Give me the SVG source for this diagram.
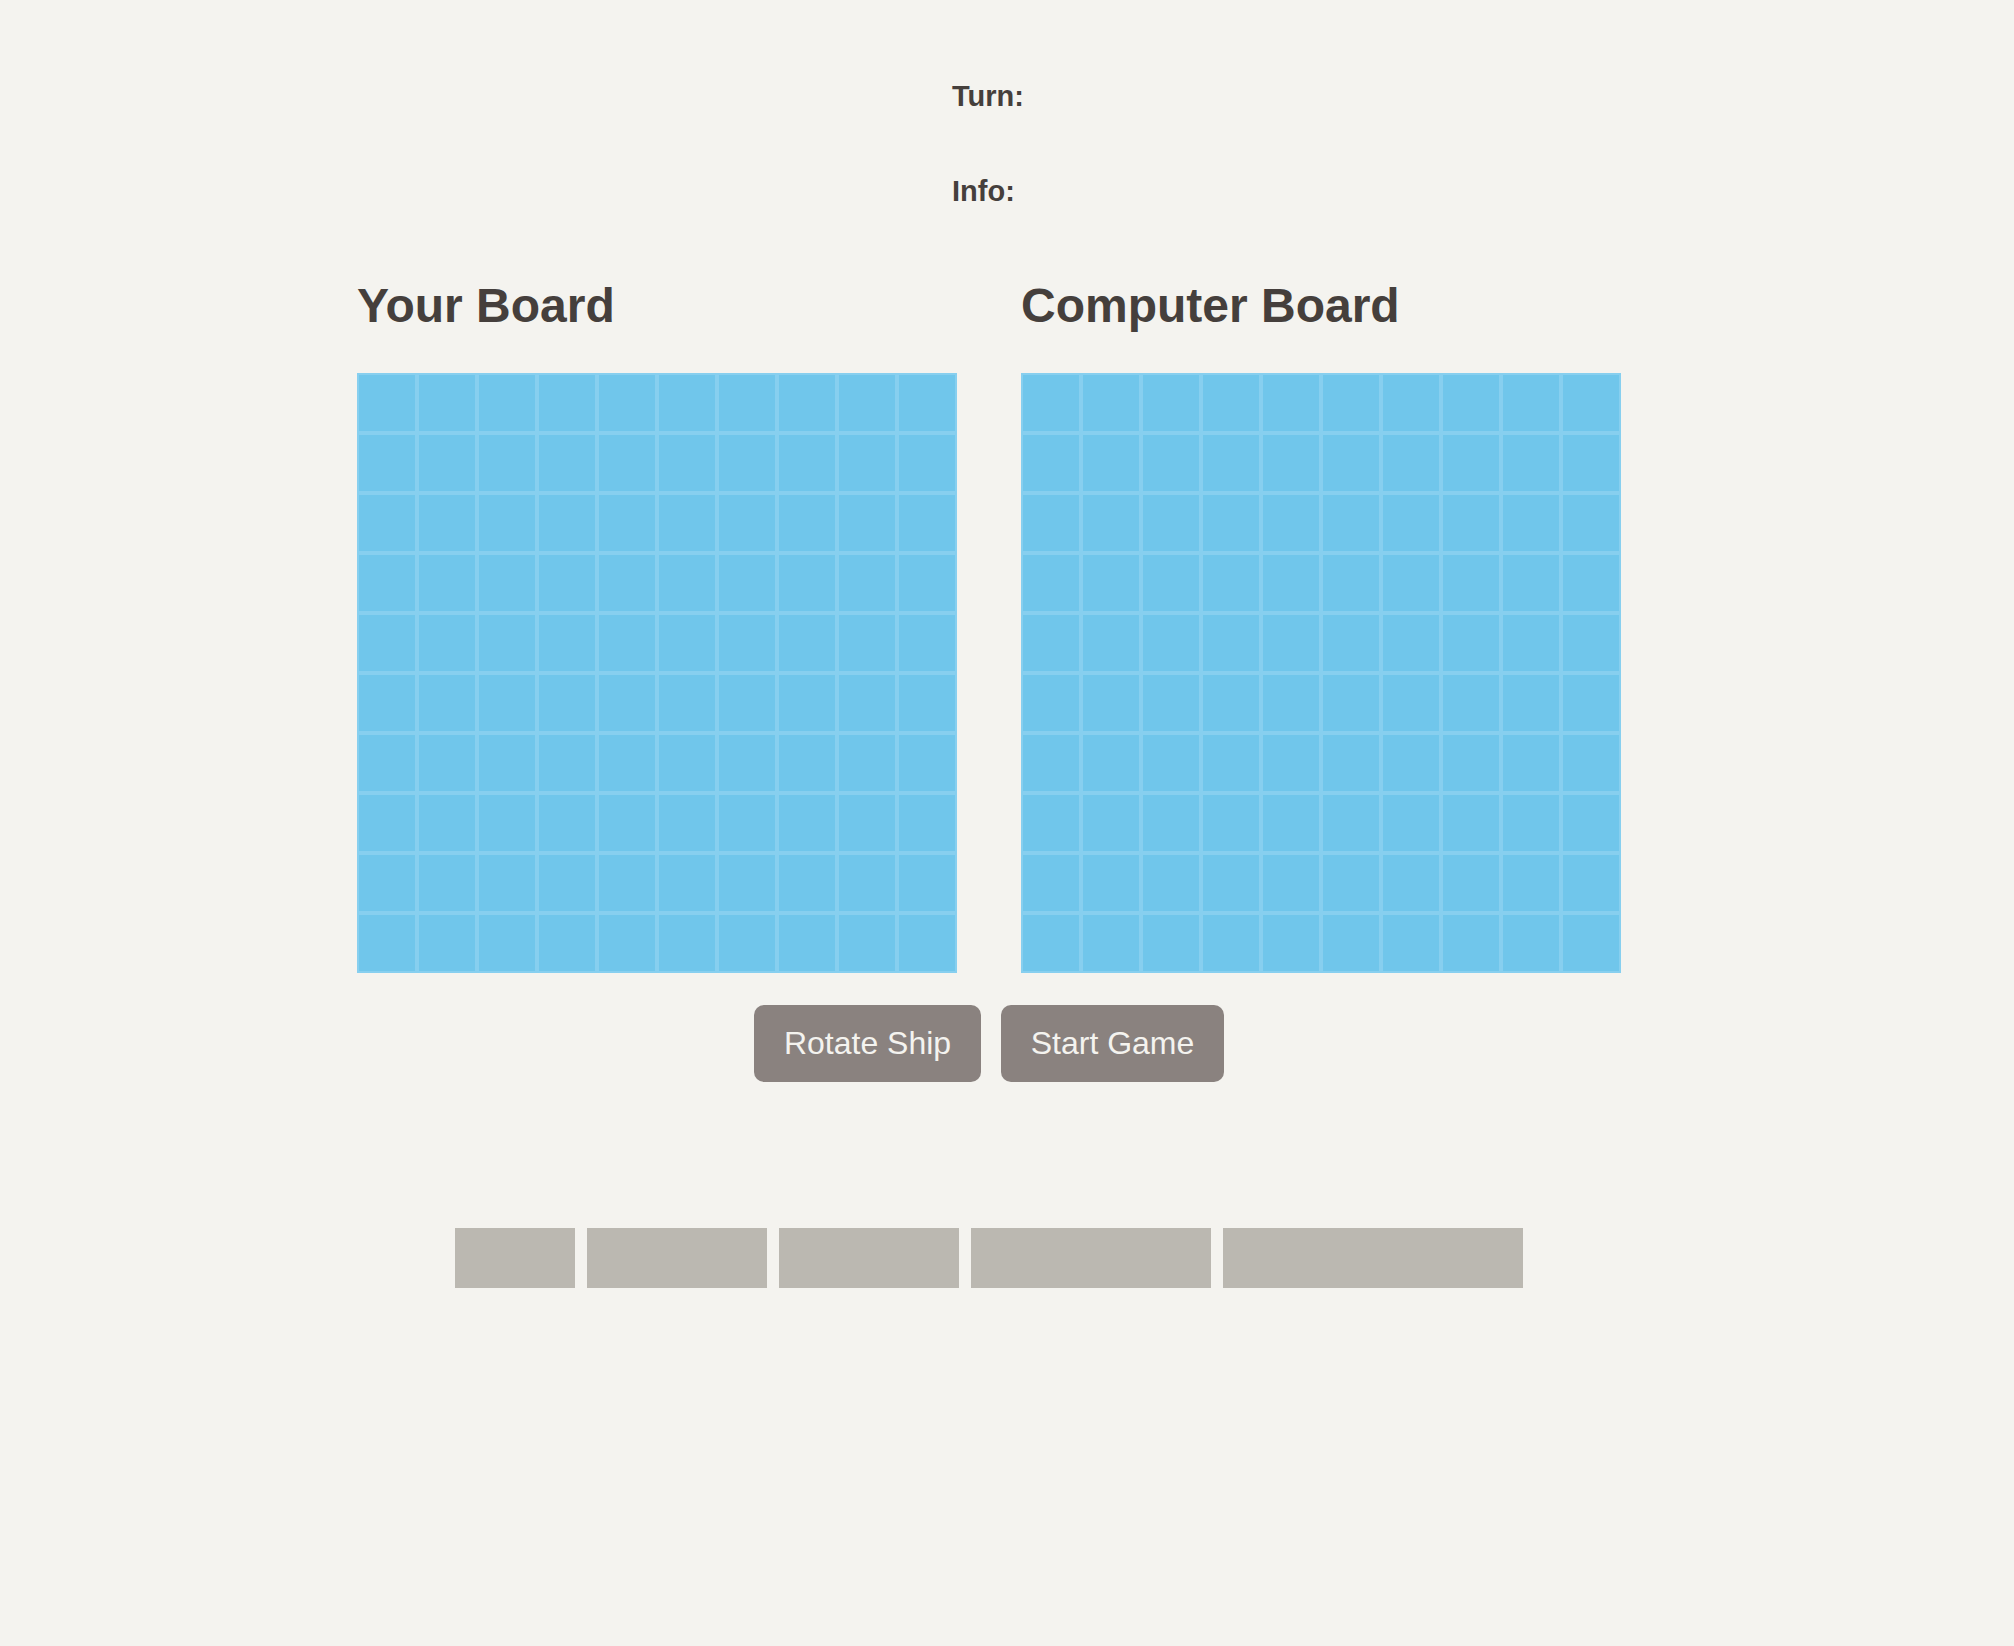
<svg xmlns="http://www.w3.org/2000/svg" xmlns:xlink="http://www.w3.org/1999/xlink" width="2014" height="1646" viewBox="0 0 2014 1646">
<style>
.lbl{font-family:"Liberation Sans",Arial,sans-serif;font-weight:bold;fill:#453f3c;}
.small{font-size:29px;}
.h2{font-size:48px;}
.board{fill:#87cfef;}
.cell{fill:#70c6eb;}
.btn{fill:#8a827f;}
.btxt{font-family:"Liberation Sans",Arial,sans-serif;font-size:32px;fill:#f4f3ef;text-anchor:middle;}
.ship{fill:#bbb8b1;}
</style>
<defs>
<g id="row">
<rect class="cell" x="2" y="2" width="56" height="56"/>
<rect class="cell" x="62" y="2" width="56" height="56"/>
<rect class="cell" x="122" y="2" width="56" height="56"/>
<rect class="cell" x="182" y="2" width="56" height="56"/>
<rect class="cell" x="242" y="2" width="56" height="56"/>
<rect class="cell" x="302" y="2" width="56" height="56"/>
<rect class="cell" x="362" y="2" width="56" height="56"/>
<rect class="cell" x="422" y="2" width="56" height="56"/>
<rect class="cell" x="482" y="2" width="56" height="56"/>
<rect class="cell" x="542" y="2" width="56" height="56"/>
</g>
<g id="grid">
<rect class="board" x="0" y="0" width="600" height="600"/>
<use xlink:href="#row" href="#row" y="0"/>
<use xlink:href="#row" href="#row" y="60"/>
<use xlink:href="#row" href="#row" y="120"/>
<use xlink:href="#row" href="#row" y="180"/>
<use xlink:href="#row" href="#row" y="240"/>
<use xlink:href="#row" href="#row" y="300"/>
<use xlink:href="#row" href="#row" y="360"/>
<use xlink:href="#row" href="#row" y="420"/>
<use xlink:href="#row" href="#row" y="480"/>
<use xlink:href="#row" href="#row" y="540"/>
</g>
</defs>
<rect x="0" y="0" width="2014" height="1646" fill="#f4f3ef"/>
<g id="turn"><text class="lbl small" x="952" y="106">Turn:</text></g>
<g id="info"><text class="lbl small" x="952" y="201">Info:</text></g>
<g id="your-board">
<text class="lbl h2" x="357" y="322">Your Board</text>
<use xlink:href="#grid" href="#grid" x="357" y="373"/>
</g>
<g id="computer-board">
<text class="lbl h2" x="1021" y="322">Computer Board</text>
<use xlink:href="#grid" href="#grid" x="1021" y="373"/>
</g>
<g id="rotate-button">
<rect class="btn" x="754" y="1005" width="227" height="77" rx="10"/>
<text class="btxt" x="867.5" y="1054">Rotate Ship</text>
</g>
<g id="start-button">
<rect class="btn" x="1001" y="1005" width="223" height="77" rx="10"/>
<text class="btxt" x="1112.5" y="1054">Start Game</text>
</g>
<g id="ships">
<rect class="ship" x="455" y="1228" width="120" height="60"/>
<rect class="ship" x="587" y="1228" width="180" height="60"/>
<rect class="ship" x="779" y="1228" width="180" height="60"/>
<rect class="ship" x="971" y="1228" width="240" height="60"/>
<rect class="ship" x="1223" y="1228" width="300" height="60"/>
</g>
<g id="connectors"/>
</svg>
